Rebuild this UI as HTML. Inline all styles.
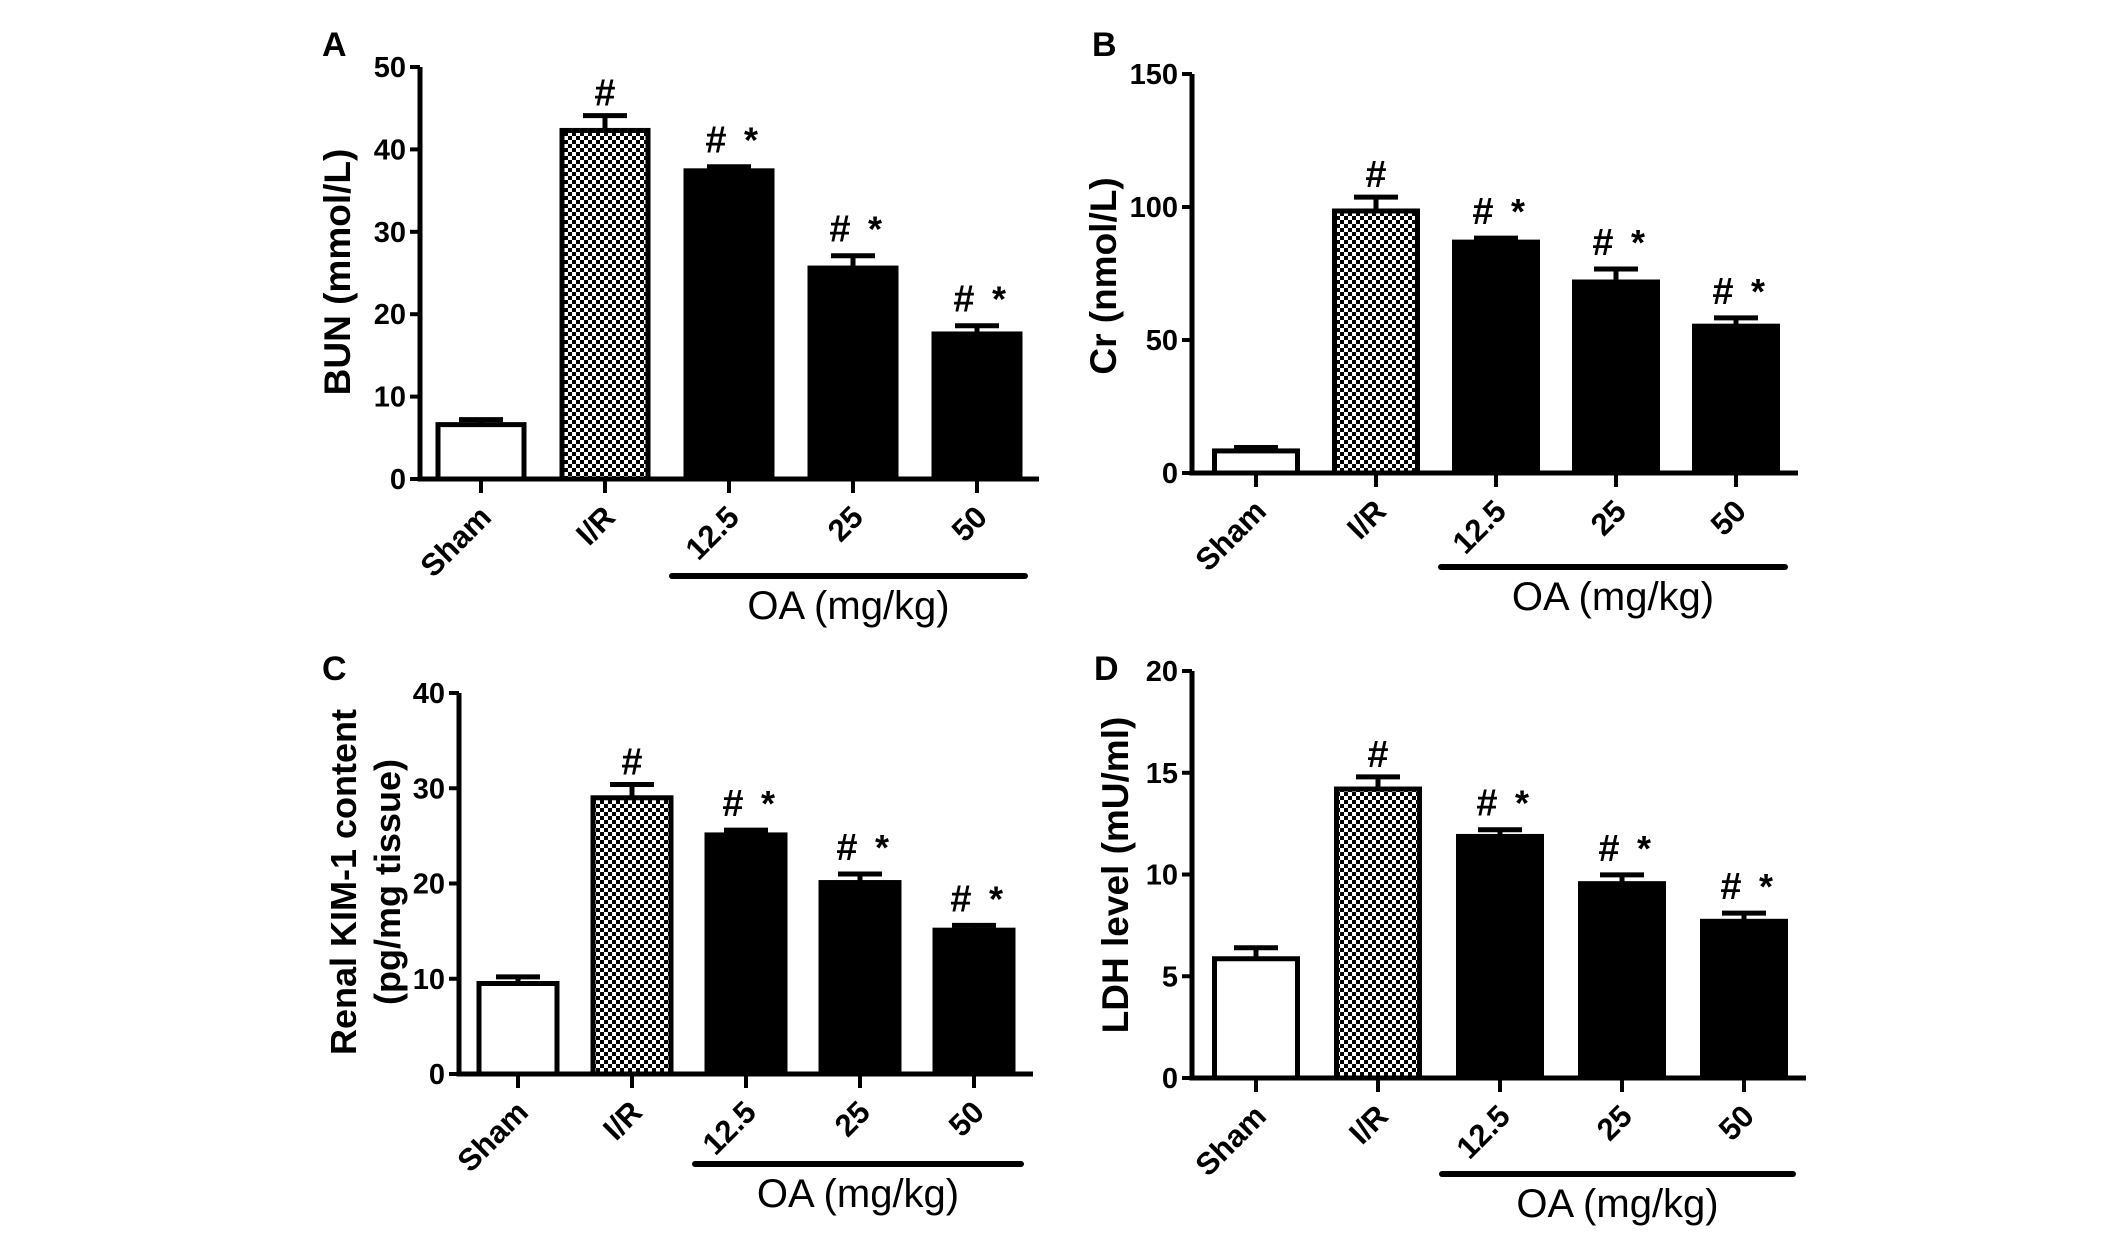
<!DOCTYPE html>
<html><head><meta charset="utf-8"><style>
html,body{margin:0;padding:0;background:#fff;overflow:hidden}
svg{display:block}
text{font-family:"Liberation Sans",Arial,sans-serif}
</style></head><body>
<svg id="fig" width="2126" height="1235" viewBox="0 0 2126 1235" xmlns="http://www.w3.org/2000/svg">
<defs>
<pattern id="chk" patternUnits="userSpaceOnUse" width="8" height="8">
<rect width="8" height="8" fill="#fff"/><rect width="4" height="4" fill="#000"/><rect x="4" y="4" width="4" height="4" fill="#000"/>
</pattern>
</defs>
</svg>
<script>
const categories = ["Sham","I/R","12.5","25","50"];
const bunValues = [6.6,42.3,37.4,25.6,17.6];
const bunErrors = [7.2,44.1,37.9,27.1,18.6];
const crValues = [8.3,98.5,86.8,71.8,55.2];
const crErrors = [9.6,103.7,88.3,76.7,58.3];
const kimValues = [9.5,29.0,25.1,20.1,15.1];
const kimErrors = [10.2,30.4,25.6,21.0,15.6];
const ldhValues = [5.86,14.2,11.87,9.55,7.7];
const ldhErrors = [6.4,14.8,12.2,9.98,8.1];
const bunTicks = [0,10,20,30,40,50];
const crTicks = [0,50,100,150];
const kimTicks = [0,10,20,30,40];
const ldhTicks = [0,5,10,15,20];
const marks = ["","#","# *","# *","# *"];

const NS="http://www.w3.org/2000/svg";
const svg=document.getElementById('fig');
function mk(tag,attrs,parent){const e=document.createElementNS(NS,tag);for(const k in attrs)e.setAttribute(k,attrs[k]);(parent||svg).appendChild(e);return e;}

function panel(p){
  const g=mk('g',{});
  
  
  const ymax=p.ticks[p.ticks.length-1];
  const y=v=>p.y0-(v/ymax)*(p.y0-p.yTop);
  const x=i=>p.c0+i*p.step;
  const lab=mk('text',{x:p.lx,y:p.ly,'font-size':34,'font-weight':'bold','font-family':'"Liberation Serif",serif'},g);
  lab.textContent=p.id;
  
  
  p.vals.forEach((v,i)=>{
    const cx=x(i), w=p.bw;
    const er=mk('path',{d:`M${cx} ${y(v)} V${y(p.errs[i])} M${cx-22} ${y(p.errs[i])} H${cx+22}`,stroke:'#000','stroke-width':5,fill:'none'},g);
    
    
    const fill=i===0?'#fff':(i===1?'url(#chk)':'#000');
    const r=mk('rect',{x:cx-w/2,y:y(v),width:w,height:p.y0-y(v),fill:fill,stroke:'#000','stroke-width':5},g);
    
    
    const m=marks[i];
    if(m==='#'){
      const t=mk('text',{x:cx,y:y(p.errs[i])-10,'text-anchor':'middle','font-size':38,'font-weight':'bold','font-family':'"Liberation Serif",serif'},g);
      t.textContent='#';
      
      
    } else if(m){
      const t1=mk('text',{x:cx-13,y:y(p.errs[i])-14,'text-anchor':'middle','font-size':38,'font-weight':'bold','font-family':'"Liberation Serif",serif'},g);
      t1.textContent='#';
      
      
      const t2=mk('text',{x:cx+22,y:y(p.errs[i])-14,'text-anchor':'middle','font-size':36,'font-weight':'bold'},g);
      t2.textContent='*';
      
      
    }
    const tk=mk('line',{x1:cx,x2:cx,y1:p.y0,y2:p.y0+14,stroke:'#000','stroke-width':4},g);
    
    
    const tl=mk('text',{x:cx+12,y:p.y0+40,'text-anchor':'end','font-size':31,'font-weight':'bold',transform:`rotate(-45 ${cx+12} ${p.y0+40})`},g);
    tl.textContent=categories[i];
    
    
  });
  const ax=mk('path',{d:`M${p.ax} ${p.yTop} V${p.y0} H${p.xEnd}`,stroke:'#000','stroke-width':5,fill:'none'},g);
  
  
  p.ticks.forEach(t=>{
    const l=mk('line',{x1:p.ax-10,x2:p.ax,y1:y(t),y2:y(t),stroke:'#000','stroke-width':4},g);
    
    
    const tt=mk('text',{x:p.ax-14,y:y(t)+10,'text-anchor':'end','font-size':29,'font-weight':'bold'},g);
    tt.textContent=t;
    
    
  });
  p.title.forEach((s,k)=>{
    const tx=p.tx+k*44;
    const t=mk('text',{x:tx,y:p.ty,'text-anchor':'middle','font-size':p.tfs,'font-weight':'bold',transform:`rotate(-90 ${tx} ${p.ty})`},g);
    t.textContent=s;
    
    
  });
  const ol=mk('line',{x1:p.oa[0],x2:p.oa[1],y1:p.oa[2],y2:p.oa[2],stroke:'#000','stroke-width':6,'stroke-linecap':'round'},g);
  
  
  const ot=mk('text',{x:(p.oa[0]+p.oa[1])/2,y:p.oa[2]+43,'text-anchor':'middle','font-size':40},g);
  ot.textContent='OA (mg/kg)';
  
  
}

panel({id:'A',vals:bunValues,errs:bunErrors,ticks:bunTicks,ax:420,yTop:67,y0:479,xEnd:1039,c0:481,step:124,bw:86,lx:322,ly:56,title:['BUN (mmol/L)'],tfs:37,tx:350,ty:272,oa:[672,1025,576]});
panel({id:'B',vals:crValues,errs:crErrors,ticks:crTicks,ax:1192,yTop:74,y0:473,xEnd:1798,c0:1256,step:120,bw:83,lx:1092,ly:56,title:['Cr (nmol/L)'],tfs:37,tx:1116,ty:276,oa:[1441,1785,567]});
panel({id:'C',vals:kimValues,errs:kimErrors,ticks:kimTicks,ax:459,yTop:693,y0:1074,xEnd:1033,c0:518,step:114,bw:78,lx:322,ly:680,title:['Renal KIM-1 content','(pg/mg tissue)'],tfs:36,tx:356,ty:882,oa:[695,1021,1164]});
panel({id:'D',vals:ldhValues,errs:ldhErrors,ticks:ldhTicks,ax:1192,yTop:671,y0:1078,xEnd:1806,c0:1256,step:122,bw:83,lx:1094,ly:680,title:['LDH level (mU/ml)'],tfs:37,tx:1128,ty:875,oa:[1442,1793,1174]});
</script>
</body></html>
